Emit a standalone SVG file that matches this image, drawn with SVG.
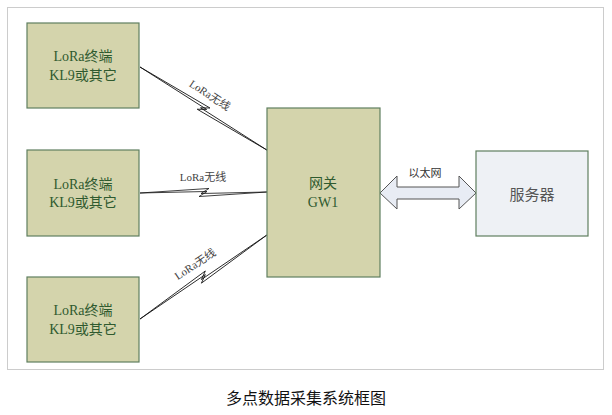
<svg xmlns="http://www.w3.org/2000/svg" width="612" height="415" viewBox="0 0 612 415">
<style>
.node{fill:#d4d4ac;stroke:#5f7f5f;stroke-width:1.2}
.srv{fill:#eef1f5;stroke:#5f7f5f;stroke-width:1.2}
.nt{font-family:"Liberation Serif","Noto Sans CJK SC",serif;font-size:14px;fill:#2f5a2f;text-anchor:middle;dominant-baseline:central}
.st{font-family:"Noto Sans CJK SC",sans-serif;font-size:15px;fill:#555;text-anchor:middle;dominant-baseline:central}
.lbl{font-family:"Liberation Serif","Noto Sans CJK SC",serif;font-size:11px;fill:#444;text-anchor:middle;dominant-baseline:central}
.bolt{fill:#fff;stroke:#111;stroke-width:0.8;stroke-linejoin:miter}
.cap{font-family:"Noto Sans CJK SC",sans-serif;font-size:16px;fill:#111;text-anchor:middle;dominant-baseline:central}
</style>
<rect x="7.5" y="7.5" width="596" height="362" fill="#fff" stroke="#cccccc" stroke-width="1"/>
<g id="connectors">
<path class="bolt" transform="translate(140,67) rotate(33.2)" d="M0,0 L81,-4 L73,1 L152,0 L71,4 L79,-1 Z"/>
<path class="bolt" transform="translate(140,193) rotate(-0.45)" d="M0,0 L69,-4 L61,1 L127,0 L59,4 L67,-1 Z"/>
<path class="bolt" transform="translate(140,319) rotate(-33.5)" d="M0,0 L81,-4 L73,1 L152,0 L71,4 L79,-1 Z"/>
<text class="lbl" transform="translate(210,95) rotate(33.2)">LoRa无线</text>
<text class="lbl" x="203" y="177">LoRa无线</text>
<text class="lbl" transform="translate(195,264) rotate(-33.5)">LoRa无线</text>
<path d="M380,193 L397,176 L397,187 L459,187 L459,176 L476,193 L459,209 L459,199 L397,199 L397,209 Z" fill="#e8ecf4" stroke="#555" stroke-width="1"/>
<text x="425" y="172" font-family="Noto Sans CJK SC,sans-serif" font-size="11" fill="#333" text-anchor="middle" dominant-baseline="central">以太网</text>
</g>
<g id="node1"><rect class="node" x="27" y="23" width="112" height="85"/><text class="nt" x="83" y="56">LoRa终端</text><text class="nt" x="83" y="75">KL9或其它</text></g>
<g id="node2"><rect class="node" x="27" y="150" width="112" height="86"/><text class="nt" x="83" y="184">LoRa终端</text><text class="nt" x="83" y="202">KL9或其它</text></g>
<g id="node3"><rect class="node" x="27" y="277" width="112" height="85"/><text class="nt" x="83" y="310">LoRa终端</text><text class="nt" x="83" y="329">KL9或其它</text></g>
<g id="gateway"><rect class="node" x="267" y="108" width="113" height="169"/><text class="nt" x="323" y="183">网关</text><text class="nt" x="323" y="202">GW1</text></g>
<g id="server"><rect class="srv" x="476" y="151" width="112" height="85"/><text class="st" x="532" y="193">服务器</text></g>
<text class="cap" x="306" y="397">多点数据采集系统框图</text>
</svg>
